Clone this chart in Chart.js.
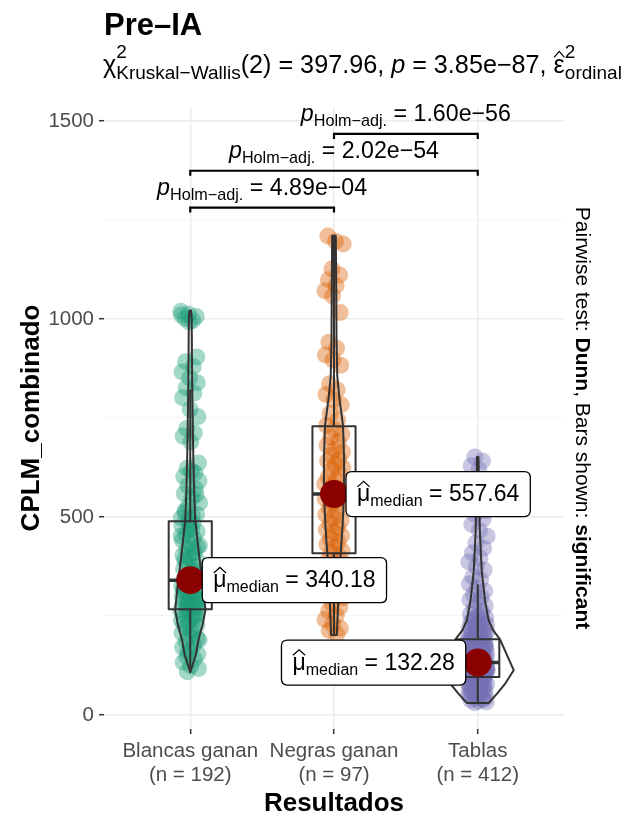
<!DOCTYPE html>
<html>
<head>
<meta charset="utf-8">
<script src="https://cdn.jsdelivr.net/npm/chart.js@4.4.1/dist/chart.umd.min.js"></script>
<style>
  html, body { margin: 0; padding: 0; background: #fff; }
</style>
</head>
<body>
<canvas id="myChart" width="638" height="819"></canvas>
<script>
// Pre-IA: CPLM_combinado por resultado (estilo ggbetweenstats)

const categories = ['Blancas ganan', 'Negras ganan', 'Tablas'];
const groupN = [192, 97, 412];
const colors = ['#1B9E77', '#D95F02', '#7570B3'];

const medians = [340.18, 557.64, 132.28];
const q1 = [267, 408, 96];
const q3 = [489, 729, 191];
const whiskerLow = [108, 202, 30];
const whiskerHigh = [822, 1210, 330];
const labelSide = [1, 1, -1];

const yTicks = [0, 250, 500, 750, 1000, 1250, 1500];

const blancasValues = [
  1019, 1012, 1006, 1001, 996, 1010, 992, 904, 892, 879, 866, 851, 839, 826, 812, 801,
  771, 753, 723, 712, 704, 689, 636, 623, 611, 602, 616, 591, 579, 571, 559, 548, 536, 526, 556,
  511, 503, 497, 493, 507, 516, 486, 477, 471, 463, 456, 447, 441, 433, 424, 417, 411, 403,
  396, 387, 381, 374, 369, 361, 356, 349, 346, 343, 469, 428, 399, 362, 391, 421, 452, 482,
  338, 334, 331, 326, 319, 316, 309, 306, 301, 297, 293, 287, 283, 281, 277, 271, 268, 332,
  317, 303, 289, 279, 272, 313, 327, 299, 286, 274, 323, 307, 264, 261, 254, 251, 246, 239,
  236, 227, 221, 216, 207, 199, 193, 186, 177, 171, 163, 154, 147, 141, 133, 124, 117, 109,
  249, 231, 211, 189, 159, 242
];
const negrasValues = [
  1209, 1196, 1189, 1126, 1111, 1099, 1084, 1071, 1058, 1016, 941, 926, 909, 896, 883,
  836, 821, 809, 796, 783, 761, 744, 731, 721, 709, 701, 689, 681, 671, 664, 656, 647, 641,
  633, 624, 619, 609, 601, 593, 584, 577, 571, 563, 552, 546, 537, 531, 521, 514, 506, 498,
  491, 483, 474, 467, 461, 453, 444, 437, 431, 423, 414, 409, 401, 389, 381, 369, 356, 341,
  324, 311, 296, 281, 271, 263, 251, 241, 229, 219, 213, 204
];
const tablasValues = [
  651, 641, 629, 619, 516, 506, 494, 481, 466, 451, 434, 421, 409, 397, 386, 374, 366,
  349, 341, 331, 321, 313, 304, 297, 291, 283, 276, 269, 261, 254, 249, 246, 243, 238, 234,
  231, 229, 224, 221, 218, 214, 211, 209, 206, 203, 201, 198, 196, 193, 241, 232, 219, 216,
  204, 197, 190, 187, 186, 183, 181, 179, 177, 175, 172, 171, 168, 166, 163, 161, 158, 157,
  154, 152, 149, 148, 146, 143, 141, 139, 137, 136, 134, 133, 189, 182, 176, 169, 164, 156,
  151, 144, 138, 135, 185, 178, 173, 165, 159, 153, 147, 131, 129, 128, 126, 125, 123, 121,
  120, 118, 116, 115, 113, 112, 111, 109, 107, 106, 104, 103, 101, 100, 98, 97, 96, 130, 127,
  122, 119, 117, 114, 110, 108, 105, 102, 99, 124, 116, 112, 107, 103, 127, 121, 114, 110,
  105, 95, 93, 91, 89, 86, 84, 81, 79, 76, 74, 71, 69, 66, 63, 61, 58, 55, 52, 49, 46, 43,
  41, 38, 35, 33, 31, 94, 88, 83, 78, 72, 67, 62, 57, 51, 45, 39, 92, 85, 77
];

// violin outlines (value, relative density)
const violinBlancasY = [108, 150, 190, 230, 265, 300, 340, 416, 491, 560, 650, 820, 1000, 1021];
const violinBlancasW = [0, 0.15, 0.23, 0.35, 0.42, 0.38, 0.33, 0.23, 0.14, 0.11, 0.085, 0.055, 0.04, 0.02];
const violinNegrasY = [202, 270, 340, 411, 480, 562, 650, 731, 800, 857, 950, 1100, 1210];
const violinNegrasW = [0.08, 0.11, 0.14, 0.19, 0.24, 0.28, 0.28, 0.25, 0.15, 0.09, 0.07, 0.06, 0.05];
const violinTablasY = [30, 55, 80, 113, 150, 191, 215, 240, 290, 365, 459, 550, 651];
const violinTablasW = [0.3, 0.55, 0.77, 1.0, 0.82, 0.62, 0.42, 0.3, 0.2, 0.11, 0.06, 0.04, 0.02];

const pairs = [[1, 2], [1, 3], [2, 3]];
const pairP = ['4.89e\u221204', '2.02e\u221254', '1.60e\u221256'];
const pairBarY = [1281, 1374, 1467];

const FONT = '"Liberation Sans", Arial, Helvetica, sans-serif';
const valueLists = [blancasValues, negrasValues, tablasValues];
const violinY = [violinBlancasY, violinNegrasY, violinTablasY];
const violinW = [violinBlancasW, violinNegrasW, violinTablasW];

function alpha(hex, a) {
  const n = parseInt(hex.slice(1), 16);
  return 'rgba(' + (n >> 16) + ',' + ((n >> 8) & 255) + ',' + (n & 255) + ',' + a + ')';
}

// fixed pseudo jitter, only for horizontal spread
function jitter(i, g) {
  return (((i * 41 + g * 17) % 101) / 100 - 0.5) * 0.13;
}

function fontStr(r) {
  return (r.italic ? 'italic ' : '') + (r.bold ? 'bold ' : '') + r.size + 'px ' + FONT;
}
function runWidth(ctx, r) {
  ctx.font = fontStr(r);
  if (r.stack) return Math.max.apply(null, r.stack.map(s => ctx.measureText(s.text).width));
  return ctx.measureText(r.text).width;
}
function drawHat(ctx, x, w, y, size) {
  ctx.save();
  ctx.beginPath();
  ctx.lineWidth = 1.2;
  ctx.strokeStyle = ctx.fillStyle;
  ctx.moveTo(x + 0.5, y - size * 0.62);
  ctx.lineTo(x + w / 2, y - size * 0.86);
  ctx.lineTo(x + w - 0.5, y - size * 0.62);
  ctx.stroke();
  ctx.restore();
}
function drawRuns(ctx, runs, x, y, align) {
  const widths = runs.map(r => runWidth(ctx, r));
  const total = widths.reduce((a, b) => a + b, 0);
  let cx = align === 'center' ? x - total / 2 : (align === 'right' ? x - total : x);
  ctx.textAlign = 'left';
  ctx.textBaseline = 'alphabetic';
  runs.forEach((r, k) => {
    ctx.font = fontStr(r);
    if (r.stack) {
      r.stack.forEach(s => ctx.fillText(s.text, cx, y + s.dy));
    } else {
      ctx.fillText(r.text, cx, y + (r.dy || 0));
    }
    if (r.hat) drawHat(ctx, cx, widths[k], y, r.size);
    cx += widths[k];
  });
  return total;
}

function roundRect(ctx, x, y, w, h, r) {
  ctx.beginPath();
  ctx.moveTo(x + r, y);
  ctx.lineTo(x + w - r, y);
  ctx.quadraticCurveTo(x + w, y, x + w, y + r);
  ctx.lineTo(x + w, y + h - r);
  ctx.quadraticCurveTo(x + w, y + h, x + w - r, y + h);
  ctx.lineTo(x + r, y + h);
  ctx.quadraticCurveTo(x, y + h, x, y + h - r);
  ctx.lineTo(x, y + r);
  ctx.quadraticCurveTo(x, y, x + r, y);
  ctx.closePath();
}

const overlay = {
  id: 'overlay',
  beforeDatasetDraw(chart, args) {
    if (args.index !== 3) return;
    const ctx = chart.ctx, xs = chart.scales.x, ys = chart.scales.y;
    ctx.save();
    ctx.strokeStyle = '#333333';
    ctx.lineWidth = 2;
    ctx.lineJoin = 'round';
    categories.forEach((c, g) => {
      const cx = g + 1;
      // whiskers
      ctx.beginPath();
      ctx.moveTo(xs.getPixelForValue(cx), ys.getPixelForValue(q3[g]));
      ctx.lineTo(xs.getPixelForValue(cx), ys.getPixelForValue(whiskerHigh[g]));
      ctx.moveTo(xs.getPixelForValue(cx), ys.getPixelForValue(q1[g]));
      ctx.lineTo(xs.getPixelForValue(cx), ys.getPixelForValue(whiskerLow[g]));
      ctx.stroke();
      // box
      const bl = xs.getPixelForValue(cx - 0.15), br = xs.getPixelForValue(cx + 0.15);
      const bt = ys.getPixelForValue(q3[g]), bb = ys.getPixelForValue(q1[g]);
      ctx.strokeRect(bl, bt, br - bl, bb - bt);
      ctx.save();
      ctx.lineWidth = 3.5;
      ctx.beginPath();
      ctx.moveTo(bl, ys.getPixelForValue(medians[g]));
      ctx.lineTo(br, ys.getPixelForValue(medians[g]));
      ctx.stroke();
      ctx.restore();
      // violin
      const vy = violinY[g], vw = violinW[g];
      ctx.beginPath();
      for (let k = 0; k < vy.length; k++) {
        const px = xs.getPixelForValue(cx + vw[k] * 0.25), py = ys.getPixelForValue(vy[k]);
        if (k === 0) ctx.moveTo(px, py); else ctx.lineTo(px, py);
      }
      for (let k = vy.length - 1; k >= 0; k--) {
        ctx.lineTo(xs.getPixelForValue(cx - vw[k] * 0.25), ys.getPixelForValue(vy[k]));
      }
      ctx.closePath();
      ctx.stroke();
    });
    ctx.restore();
  },
  afterDatasetsDraw(chart) {
    const ctx = chart.ctx, xs = chart.scales.x, ys = chart.scales.y;
    ctx.save();
    // median labels
    categories.forEach((c, g) => {
      const px = xs.getPixelForValue(g + 1), py = ys.getPixelForValue(medians[g]);
      const runs = [
        { text: '\u03BC', size: 23, hat: true },
        { text: 'median', size: 16, dy: 5 },
        { text: ' = ' + medians[g].toFixed(2), size: 23 }
      ];
      const tw = runs.reduce((a, r) => a + runWidth(ctx, r), 0);
      const w = tw + 22, h = 45;
      const left = labelSide[g] > 0 ? px + 12 : px - 12 - w;
      roundRect(ctx, left, py - h / 2, w, h, 6);
      ctx.fillStyle = '#ffffff';
      ctx.fill();
      ctx.lineWidth = 1.3;
      ctx.strokeStyle = '#000000';
      ctx.stroke();
      ctx.fillStyle = '#000000';
      drawRuns(ctx, runs, left + 11, py + 7, 'left');
    });
    // pairwise bars
    ctx.strokeStyle = '#000000';
    ctx.fillStyle = '#000000';
    ctx.lineWidth = 2.2;
    pairs.forEach((p, k) => {
      const x1 = xs.getPixelForValue(p[0]), x2 = xs.getPixelForValue(p[1]);
      const y = ys.getPixelForValue(pairBarY[k]);
      ctx.beginPath();
      ctx.moveTo(x1, y + 5);
      ctx.lineTo(x1, y);
      ctx.lineTo(x2, y);
      ctx.lineTo(x2, y + 5);
      ctx.stroke();
      drawRuns(ctx, [
        { text: 'p', size: 23.2, italic: true },
        { text: 'Holm\u2212adj.', size: 16.2, dy: 5 },
        { text: ' = ' + pairP[k], size: 23.2 }
      ], (x1 + x2) / 2, y - 13, 'center');
    });
    ctx.restore();
  },
  afterDraw(chart) {
    const ctx = chart.ctx, area = chart.chartArea;
    ctx.save();
    ctx.fillStyle = '#000000';
    drawRuns(ctx, [{ text: 'Pre\u2013IA', size: 31, bold: true }], 104, 35, 'left');
    drawRuns(ctx, [
      { text: '\u03C7', size: 25.2 },
      { stack: [{ text: '2', dy: -15 }, { text: 'Kruskal\u2212Wallis', dy: 6 }], size: 19 },
      { text: '(2) = 397.96, ', size: 25.2 },
      { text: 'p', size: 25.2, italic: true },
      { text: ' = 3.85e\u221287, ', size: 25.2 },
      { text: '\u03B5', size: 25.2, hat: true },
      { stack: [{ text: '2', dy: -15 }, { text: 'ordinal', dy: 6 }], size: 19 }
    ], 103, 73, 'left');
    // axis titles
    drawRuns(ctx, [{ text: 'Resultados', size: 26, bold: true }], (area.left + area.right) / 2, 811, 'center');
    ctx.save();
    ctx.translate(39, (area.top + area.bottom) / 2);
    ctx.rotate(-Math.PI / 2);
    drawRuns(ctx, [{ text: 'CPLM_combinado', size: 26, bold: true }], 0, 0, 'center');
    ctx.restore();
    // caption on the right
    ctx.save();
    ctx.translate(576, 418);
    ctx.rotate(Math.PI / 2);
    drawRuns(ctx, [
      { text: 'Pairwise test: ', size: 21 },
      { text: 'Dunn', size: 21, bold: true },
      { text: ', Bars shown: ', size: 21 },
      { text: 'significant', size: 21, bold: true }
    ], 0, 0, 'center');
    ctx.restore();
    ctx.restore();
  }
};

const datasets = valueLists.map((vals, g) => ({
  data: vals.map((v, i) => ({ x: g + 1 + jitter(i, g), y: v })),
  backgroundColor: alpha(colors[g], 0.4),
  borderWidth: 0,
  pointRadius: 8.5,
  pointHoverRadius: 8.5,
  order: 1
}));
datasets.push({
  data: medians.map((m, g) => ({ x: g + 1, y: m })),
  backgroundColor: '#8B0000',
  borderWidth: 0,
  pointRadius: 14,
  pointHoverRadius: 14,
  order: 0
});

const ctx = document.getElementById('myChart');

new Chart(ctx, {
  type: 'scatter',
  data: { datasets: datasets },
  options: {
    responsive: false,
    animation: false,
    devicePixelRatio: 1,
    layout: { padding: { left: 0, right: 74, top: 107, bottom: 0 } },
    plugins: { legend: { display: false }, tooltip: { enabled: false } },
    scales: {
      x: {
        type: 'linear',
        min: 0.4,
        max: 3.6,
        afterBuildTicks: s => { s.ticks = [1, 2, 3].map(v => ({ value: v })); },
        afterFit: s => { s.height = 90; },
        border: { display: false },
        grid: { color: '#EBEBEB', lineWidth: 1.4, tickLength: 5, tickColor: '#333333', tickWidth: 1.5 },
        ticks: {
          callback: v => [categories[v - 1], '(n = ' + groupN[v - 1] + ')'],
          color: '#4D4D4D',
          font: { size: 20.5, family: FONT, lineHeight: 1.15 },
          padding: 6,
          maxRotation: 0,
          autoSkip: false
        }
      },
      y: {
        type: 'linear',
        min: -35.5,
        max: 1535,
        afterBuildTicks: s => { s.ticks = yTicks.map(v => ({ value: v })); },
        afterFit: s => { s.width = 104; },
        border: { display: false },
        grid: {
          color: c => c.tick && c.tick.value % 500 === 0 ? '#EBEBEB' : '#F2F2F2',
          lineWidth: c => c.tick && c.tick.value % 500 === 0 ? 1.4 : 0.8,
          tickLength: 5,
          tickColor: c => c.tick && c.tick.value % 500 === 0 ? '#333333' : 'rgba(0,0,0,0)',
          tickWidth: 1.5
        },
        ticks: {
          callback: v => v % 500 === 0 ? String(v) : '',
          color: '#4D4D4D',
          font: { size: 20.5, family: FONT },
          padding: 5,
          autoSkip: false
        }
      }
    }
  },
  plugins: [overlay]
});
</script>
</body>
</html>
